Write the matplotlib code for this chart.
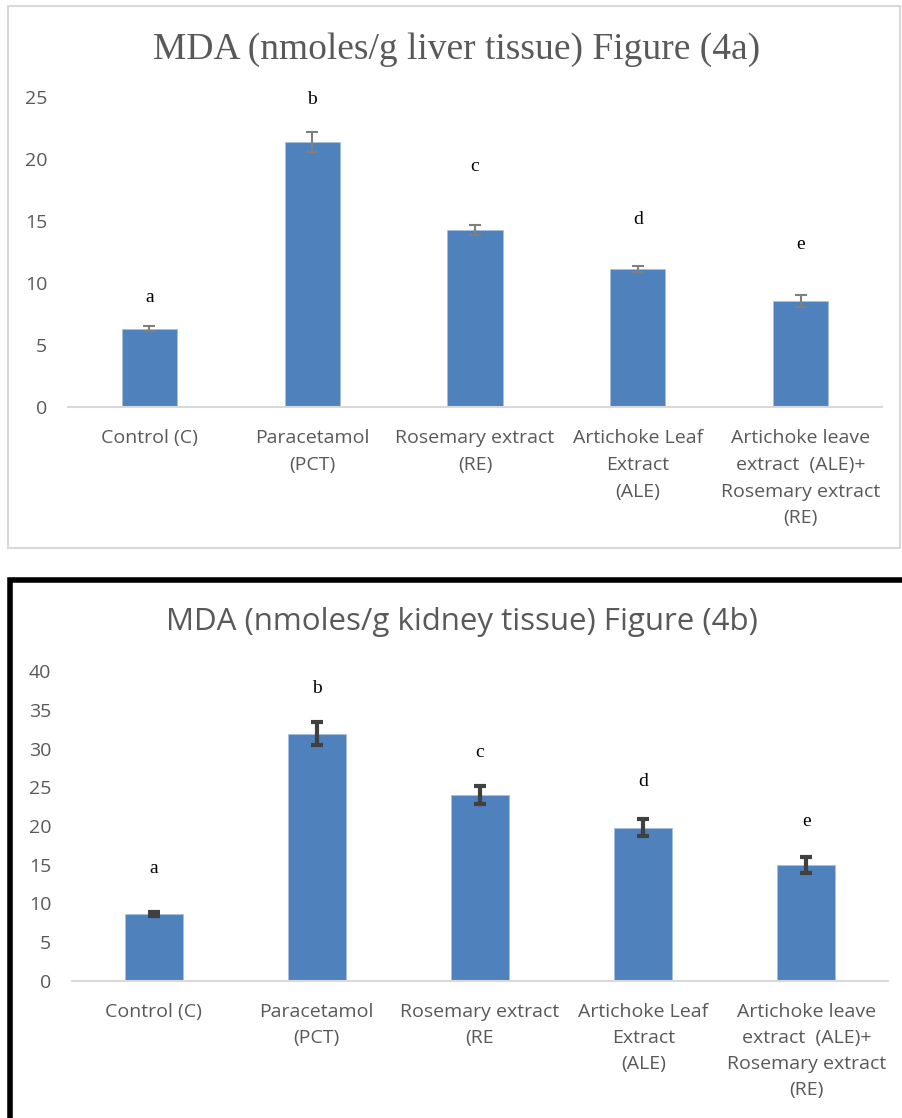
import matplotlib.pyplot as plt
from matplotlib.patches import Rectangle

groups = ["Control (C)", "Paracetamol\n(PCT)", "Rosemary extract\n(RE)",
          "Artichoke Leaf\nExtract\n(ALE)",
          "Artichoke leave\nextract  (ALE)+\nRosemary extract\n(RE)"]
groups_b = ["Control (C)", "Paracetamol\n(PCT)", "Rosemary extract\n(RE",
            "Artichoke Leaf\nExtract\n(ALE)",
            "Artichoke leave\nextract  (ALE)+\nRosemary extract\n(RE)"]
letters = ["a", "b", "c", "d", "e"]

liver_mda = [6.3, 21.35, 14.3, 11.15, 8.55]
liver_err = [0.2, 0.8, 0.4, 0.25, 0.5]
liver_letter_y = [8.8, 24.8, 19.4, 15.1, 13.1]

kidney_mda = [8.65, 31.9, 24.0, 19.75, 15.0]
kidney_err = [0.2, 1.5, 1.1, 1.1, 1.0]
kidney_letter_y = [14.5, 37.8, 29.5, 25.7, 20.6]

W, H = 902, 1118
fig = plt.figure(figsize=(W / 100, H / 100), dpi=100)
fig.patch.set_facecolor("white")

sans = ["Open Sans", "DejaVu Sans"]
serif = ["Liberation Serif", "DejaVu Serif"]
bar_color = "#4f81bd"
text_gray = "#595959"

# panel frames
fig.patches.append(Rectangle((8 / W, 1 - 548 / H), 892 / W, 542 / H, transform=fig.transFigure,
                             fill=False, edgecolor="#d9d9d9", lw=1.5))
fig.patches.append(Rectangle((10 / W, -0.01), 1.0, 1 - 580 / H + 0.01, transform=fig.transFigure,
                             fill=False, edgecolor="black", lw=4))


def panel(rect, values, errs, labels, letter_y, ymax, title, title_y, title_font, title_size,
          width, err_color, err_lw, capsize, capthick, lsp):
    ax = fig.add_axes(rect)
    x = range(len(values))
    ax.bar(x, values, width=width, color=bar_color, edgecolor="#a6c0e0", lw=0.6, zorder=2)
    ax.errorbar(x, values, yerr=errs, fmt="none", ecolor=err_color, elinewidth=err_lw,
                capsize=capsize, capthick=capthick, zorder=3)
    for i, (lt, ly) in enumerate(zip(letters, letter_y)):
        ax.text(i, ly, lt, ha="center", va="center", fontsize=14, family=serif, color="black")
    ax.set_xlim(-0.5, len(values) - 0.5)
    ax.set_ylim(0, ymax)
    ax.set_yticks(range(0, ymax + 1, 5))
    ax.set_xticks(list(x))
    ax.set_xticklabels(labels, family=sans, fontsize=14, color=text_gray, linespacing=lsp)
    for t in ax.get_yticklabels():
        t.set_family(sans)
        t.set_fontsize(14)
        t.set_color(text_gray)
    ax.tick_params(length=0)
    ax.tick_params(axis="x", pad=16)
    ax.tick_params(axis="y", pad=15)
    for s in ["top", "right", "left"]:
        ax.spines[s].set_visible(False)
    ax.spines["bottom"].set_color("#d9d9d9")
    ax.spines["bottom"].set_linewidth(1.5)
    ax.set_facecolor("none")
    fig.text(0.5 * (rect[0] * 2 + rect[2]) - 0.02, title_y, title, ha="center", va="center",
             fontsize=title_size, color=text_gray, family=title_font)
    return ax


panel([68 / W, 1 - 407 / H, 814 / W, 310 / H], liver_mda, liver_err, groups, liver_letter_y, 25,
      "MDA (nmoles/g liver tissue) Figure (4a)", 1 - 50 / H, serif, 27,
      0.34, "#7f7f7f", 1.5, 4, 1.5, 1.62)
panel([72 / W, 1 - 981 / H, 816 / W, 310 / H], kidney_mda, kidney_err, groups_b, kidney_letter_y, 40,
      "MDA (nmoles/g kidney tissue) Figure (4b)", 1 - 622 / H, sans, 22.5,
      0.355, "#404040", 3, 4, 3, 1.56)

fig.savefig("out.png", dpi=100)
